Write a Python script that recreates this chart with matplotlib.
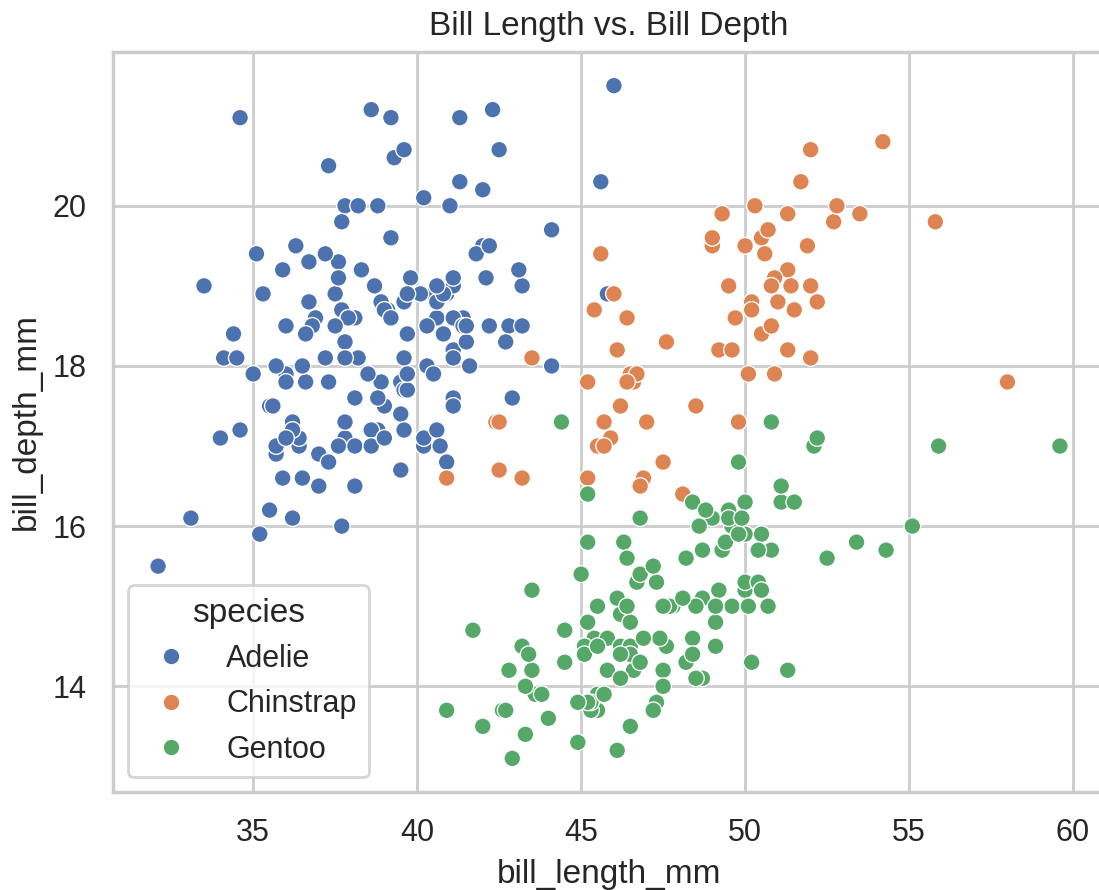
import matplotlib
matplotlib.use("Agg")
import matplotlib.pyplot as plt
import pandas as pd
import seaborn as sns

# Bill measurements (mm) per species
adelie_length = [
    39.1, 39.5, 40.3, 36.7, 39.3, 38.9, 39.2, 34.1, 42.0, 37.8, 37.8, 41.1, 38.6, 34.6,
    36.6, 38.7, 42.5, 34.4, 46.0, 37.8, 37.7, 35.9, 38.2, 38.8, 35.3, 40.6, 40.5, 37.9,
    40.5, 39.5, 37.2, 39.5, 40.9, 36.4, 39.2, 38.8, 42.2, 37.6, 39.8, 36.5, 40.8, 36.0,
    44.1, 37.0, 39.6, 41.1, 37.5, 36.0, 42.3, 39.6, 40.1, 35.0, 42.0, 34.5, 41.4, 39.0,
    40.6, 36.5, 37.6, 35.7, 41.3, 37.6, 41.1, 36.4, 41.6, 35.5, 41.1, 35.9, 41.8, 33.5,
    39.7, 39.6, 45.8, 35.5, 42.8, 40.9, 37.2, 36.2, 42.1, 34.6, 42.9, 36.7, 35.1, 37.3,
    41.3, 36.3, 36.9, 38.3, 38.9, 35.7, 41.1, 34.0, 39.6, 36.2, 40.8, 38.1, 40.3, 33.1,
    43.2, 35.0, 41.0, 37.7, 37.8, 37.9, 39.7, 38.6, 38.2, 38.1, 43.2, 38.1, 45.6, 39.7,
    42.2, 39.6, 42.7, 38.6, 37.3, 35.7, 41.1, 36.2, 37.7, 40.2, 41.4, 35.2, 40.6, 38.8,
    41.5, 39.0, 44.1, 38.5, 43.1, 36.8, 37.5, 38.1, 41.1, 35.6, 40.2, 37.0, 39.7, 40.2,
    40.6, 32.1, 40.7, 37.3, 39.0, 39.2, 36.6, 36.0, 37.8, 36.0, 41.5,
]
adelie_depth = [
    18.7, 17.4, 18.0, 19.3, 20.6, 17.8, 19.6, 18.1, 20.2, 17.1, 17.3, 17.6, 21.2, 21.1,
    17.8, 19.0, 20.7, 18.4, 21.5, 18.3, 18.7, 19.2, 18.1, 17.2, 18.9, 18.6, 17.9, 18.6,
    18.9, 16.7, 18.1, 17.8, 18.9, 17.0, 21.1, 20.0, 18.5, 19.3, 19.1, 18.0, 18.4, 18.5,
    19.7, 16.9, 18.8, 19.0, 18.9, 17.9, 21.2, 17.7, 18.9, 17.9, 19.5, 18.1, 18.6, 17.5,
    18.8, 16.6, 19.1, 16.9, 21.1, 17.0, 18.2, 17.1, 18.0, 16.2, 19.1, 16.6, 19.4, 19.0,
    18.4, 17.2, 18.9, 17.5, 18.5, 16.8, 19.4, 16.1, 19.1, 17.2, 17.6, 18.8, 19.4, 17.8,
    20.3, 19.5, 18.6, 19.2, 18.8, 18.0, 18.1, 17.1, 18.1, 17.3, 18.9, 18.6, 18.5, 16.1,
    18.5, 17.9, 20.0, 16.0, 20.0, 18.6, 18.9, 17.2, 20.0, 17.0, 19.0, 16.5, 20.3, 17.7,
    19.5, 20.7, 18.3, 17.0, 20.5, 17.0, 18.6, 17.2, 19.8, 17.0, 18.5, 15.9, 19.0, 17.6,
    18.3, 17.1, 18.0, 17.9, 19.2, 18.5, 18.5, 17.6, 17.5, 17.5, 20.1, 16.5, 17.9, 17.1,
    17.2, 15.5, 17.0, 16.8, 18.7, 18.6, 18.4, 17.8, 18.1, 17.1, 18.5,
]

chinstrap_length = [
    46.5, 50.0, 51.3, 45.4, 52.7, 45.2, 46.1, 51.3, 46.0, 51.3, 46.6, 51.7, 47.0, 52.0,
    45.9, 50.5, 50.3, 58.0, 46.4, 49.2, 42.4, 48.5, 43.2, 50.6, 46.7, 52.0, 50.5, 49.5,
    46.4, 52.8, 40.9, 54.2, 42.5, 51.0, 49.7, 47.5, 47.6, 52.0, 46.9, 53.5, 49.0, 46.2,
    50.9, 45.5, 50.9, 50.8, 50.1, 49.0, 51.5, 49.8, 48.1, 51.4, 45.7, 50.7, 42.5, 52.2,
    45.2, 49.3, 50.2, 45.6, 51.9, 46.8, 45.7, 55.8, 43.5, 49.6, 50.8, 50.2,
]
chinstrap_depth = [
    17.9, 19.5, 19.2, 18.7, 19.8, 17.8, 18.2, 18.2, 18.9, 19.9, 17.8, 20.3, 17.3, 18.1,
    17.1, 19.6, 20.0, 17.8, 18.6, 18.2, 17.3, 17.5, 16.6, 19.4, 17.9, 19.0, 18.4, 19.0,
    17.8, 20.0, 16.6, 20.8, 16.7, 18.8, 18.6, 16.8, 18.3, 20.7, 16.6, 19.9, 19.5, 17.5,
    19.1, 17.0, 17.9, 18.5, 17.9, 19.6, 18.7, 17.3, 16.4, 19.0, 17.3, 19.7, 17.3, 18.8,
    16.6, 19.9, 18.8, 19.4, 19.5, 16.5, 17.0, 19.8, 18.1, 18.2, 19.0, 18.7,
]

gentoo_length = [
    46.1, 50.0, 48.7, 50.0, 47.6, 46.5, 45.4, 46.7, 43.3, 46.8, 40.9, 49.0, 45.5, 48.4,
    45.8, 49.3, 42.0, 49.2, 46.2, 48.7, 50.2, 45.1, 46.5, 46.3, 42.9, 46.1, 44.5, 47.8,
    48.2, 50.0, 47.3, 42.8, 45.1, 59.6, 49.1, 48.4, 42.6, 44.4, 44.0, 48.7, 42.7, 49.6,
    45.3, 49.6, 50.5, 43.6, 45.5, 50.5, 44.9, 45.2, 46.6, 48.5, 45.1, 50.1, 46.5, 45.0,
    43.8, 45.5, 43.2, 50.4, 45.3, 46.2, 45.7, 54.3, 45.8, 49.8, 46.2, 49.5, 43.5, 50.7,
    47.7, 46.4, 48.2, 46.5, 46.4, 48.6, 47.5, 51.1, 45.2, 45.2, 49.1, 52.5, 47.4, 50.0,
    44.9, 50.8, 43.4, 51.3, 47.5, 52.1, 47.5, 52.2, 45.5, 49.5, 44.5, 50.8, 49.4, 46.9,
    48.4, 51.1, 48.5, 55.9, 47.2, 49.1, 47.3, 46.8, 41.7, 53.4, 43.3, 48.1, 50.5, 49.8,
    43.5, 51.5, 46.2, 55.1, 44.5, 48.8, 47.2, 46.8, 50.4, 45.2, 49.9,
]
gentoo_depth = [
    13.2, 16.3, 14.1, 15.2, 14.5, 13.5, 14.6, 15.3, 13.4, 15.4, 13.7, 16.1, 13.7, 14.6,
    14.6, 15.7, 13.5, 15.2, 14.5, 15.1, 14.3, 14.5, 14.5, 15.8, 13.1, 15.1, 14.3, 15.0,
    14.3, 15.3, 15.3, 14.2, 14.5, 17.0, 14.8, 16.3, 13.7, 17.3, 13.6, 15.7, 13.7, 16.0,
    13.7, 15.0, 15.9, 13.9, 13.9, 15.9, 13.3, 15.8, 14.2, 14.1, 14.4, 15.0, 14.4, 15.4,
    13.9, 15.0, 14.5, 15.3, 13.8, 14.9, 13.9, 15.7, 14.2, 16.8, 14.4, 16.2, 14.2, 15.0,
    15.0, 15.6, 15.6, 14.8, 15.0, 16.0, 14.2, 16.3, 13.8, 16.4, 14.5, 15.6, 14.6, 15.9,
    13.8, 17.3, 14.4, 14.2, 14.0, 17.0, 15.0, 17.1, 14.5, 16.1, 14.7, 15.7, 15.8, 14.6,
    14.4, 16.5, 15.0, 17.0, 15.5, 15.0, 13.8, 16.1, 14.7, 15.8, 14.0, 15.1, 15.2, 15.9,
    15.2, 16.3, 14.1, 16.0, 14.7, 16.2, 13.7, 14.3, 15.7, 14.8, 16.1,
]

species_names = ["Adelie", "Chinstrap", "Gentoo"]

df = pd.concat([
    pd.DataFrame({"bill_length_mm": adelie_length, "bill_depth_mm": adelie_depth, "species": "Adelie"}),
    pd.DataFrame({"bill_length_mm": chinstrap_length, "bill_depth_mm": chinstrap_depth, "species": "Chinstrap"}),
    pd.DataFrame({"bill_length_mm": gentoo_length, "bill_depth_mm": gentoo_depth, "species": "Gentoo"}),
], ignore_index=True)

sns.set_theme(style="whitegrid")
plt.rcParams["font.family"] = ["Liberation Sans", "DejaVu Sans"]

W, H, DPI = 1099, 890, 200
fig = plt.figure(figsize=(W / DPI, H / DPI), dpi=DPI)
ax = fig.add_axes([113 / W, (H - 792) / H, 992 / W, 740 / H])

sns.scatterplot(data=df, x="bill_length_mm", y="bill_depth_mm", hue="species",
                hue_order=species_names, ax=ax)
ax.set_title("Bill Length vs. Bill Depth")
sns.move_legend(ax, "lower left")

fig.savefig("out.png", dpi=DPI)
